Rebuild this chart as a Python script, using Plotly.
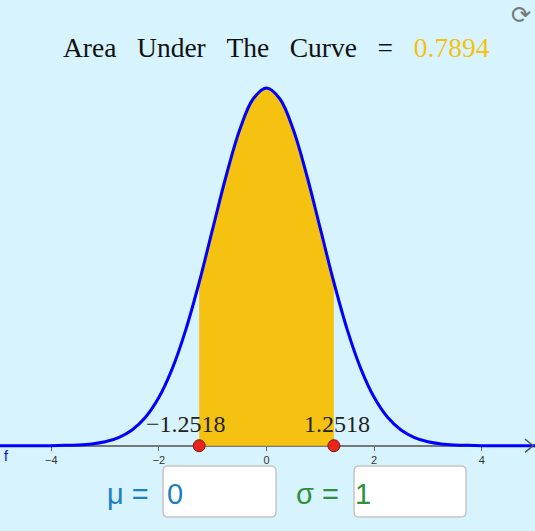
import plotly.graph_objects as go

# distribution settings and result shown in the applet
mu = 0
sigma = 1
bound = 1.2518
area = 0.7894
bound_height = 0.1822

# density curve
curve_x = [-5.0, -4.75, -4.5, -4.25, -4.0, -3.75, -3.5, -3.25, -3.0, -2.75, -2.5,
           -2.25, -2.0, -1.75, -1.5, -1.25, -1.0, -0.75, -0.5, -0.25, 0.0,
           0.25, 0.5, 0.75, 1.0, 1.25, 1.5, 1.75, 2.0, 2.25, 2.5,
           2.75, 3.0, 3.25, 3.5, 3.75, 4.0, 4.25, 4.5, 4.75, 5.0]
curve_y = [0.0000, 0.0000, 0.0000, 0.0000, 0.0001, 0.0004, 0.0009, 0.0020, 0.0044, 0.0091, 0.0175,
           0.0317, 0.0540, 0.0863, 0.1295, 0.1826, 0.2420, 0.3011, 0.3521, 0.3867, 0.3989,
           0.3867, 0.3521, 0.3011, 0.2420, 0.1826, 0.1295, 0.0863, 0.0540, 0.0317, 0.0175,
           0.0091, 0.0044, 0.0020, 0.0009, 0.0004, 0.0001, 0.0000, 0.0000, 0.0000, 0.0000]

tick_vals = [-4, -2, 0, 2, 4]
tick_text = ["\u22124", "\u22122", "0", "2", "4"]

W, H = 535, 531
BG = "#d7f3fd"
GOLD = "#f5c211"


def px(x):
    return x / W


def py(y):
    return 1 - y / H


def rounded_box(x0, y0, x1, y1, r=5):
    rx, ry = r / W, r / H
    a, b, c, d = px(x0), px(x1), py(y1), py(y0)
    return (f"M {a+rx},{c} L {b-rx},{c} Q {b},{c} {b},{c+ry} L {b},{d-ry} "
            f"Q {b},{d} {b-rx},{d} L {a+rx},{d} Q {a},{d} {a},{d-ry} "
            f"L {a},{c+ry} Q {a},{c} {a+rx},{c} Z")


def label(x, y, text, font):
    # text placed by its centre at a pixel position of the page
    fig.add_annotation(x=px(x), y=py(y), xref="paper", yref="paper", text=text,
                       showarrow=False, xanchor="center", yanchor="middle", font=font)


shade_x = [-bound] + [x for x in curve_x if -bound < x < bound] + [bound]
shade_y = [bound_height] + [y for x, y in zip(curve_x, curve_y) if -bound < x < bound] + [bound_height]

fig = go.Figure()

# shaded area
fig.add_trace(go.Scatter(
    x=shade_x, y=shade_y, mode="lines", line=dict(width=0, shape="spline"),
    fill="tozeroy", fillcolor=GOLD, hoverinfo="skip"
))

# density curve
fig.add_trace(go.Scatter(
    x=curve_x, y=curve_y, mode="lines",
    line=dict(color="#0000ff", width=3, shape="spline")
))

# bound points
fig.add_trace(go.Scatter(
    x=[-bound, bound], y=[0, 0], mode="markers",
    marker=dict(size=12, color="#e8261c", line=dict(color="#7a1a10", width=1))
))

serif = "Liberation Serif, Times New Roman, serif"
sans = "Arial, Liberation Sans, sans-serif"

# point labels
for v, shift in [(-bound, -13), (bound, 3)]:
    fig.add_annotation(
        x=v, y=0, xref="x", yref="y", text=f"{v:.4f}".replace("-", "\u2212"),
        showarrow=False, xshift=shift, yshift=22,
        font=dict(family=serif, size=24, color="#222")
    )

gap = "\u2002\u2005"
label(276, 47, gap.join(["Area", "Under", "The", "Curve", "="])
      + gap + f'<span style="color:{GOLD}">{area:.4f}</span>',
      dict(family=serif, size=27.5, color="#111"))

# function name
label(6, 456, "f", dict(family=sans, size=14, color="#0000ff"))

# refresh icon
label(521, 15, "\u27f3", dict(family="DejaVu Sans", size=24, color="#777"))

# input boxes
shapes = [
    dict(type="path", xref="paper", yref="paper", path=rounded_box(163, 466, 276, 517),
         fillcolor="white", line=dict(color="#c6c6c6", width=1.5), layer="below"),
    dict(type="path", xref="paper", yref="paper", path=rounded_box(354, 466, 466, 517),
         fillcolor="white", line=dict(color="#c6c6c6", width=1.5), layer="below"),
    # axis arrow head
    dict(type="path", xref="paper", yref="paper",
         path=f"M {px(525)},{py(439)} L {px(533)},{py(445.7)} L {px(525)},{py(452.4)}",
         line=dict(color="#555", width=1.5)),
]

for x, txt, col in [(128, "\u03bc =", "#1b7fc1"), (175, str(mu), "#1b7fc1"),
                    (317, "\u03c3 =", "#2f8f3a"), (363, str(sigma), "#2f8f3a")]:
    label(x, 494, txt, dict(family=sans, size=29, color=col))

fig.update_layout(
    width=W, height=H,
    margin=dict(l=0, r=0, t=0, b=0),
    paper_bgcolor=BG, plot_bgcolor=BG,
    showlegend=False,
    shapes=shapes,
    xaxis=dict(range=[-4.954, 4.99], anchor="free", position=py(445.7),
               showgrid=False, zeroline=False, showline=True, linecolor="#777", linewidth=2,
               ticks="outside", ticklen=4, tickcolor="#666", tickvals=tick_vals, ticktext=tick_text,
               tickfont=dict(family=sans, size=11, color="#333"), layer="below traces"),
    yaxis=dict(range=[-0.0951, 0.4971], visible=False, showgrid=False, zeroline=False),
)

fig.write_html("out.html", config={"displayModeBar": False},
               post_script="document.body.style.margin='0';document.body.style.overflow='hidden';")
